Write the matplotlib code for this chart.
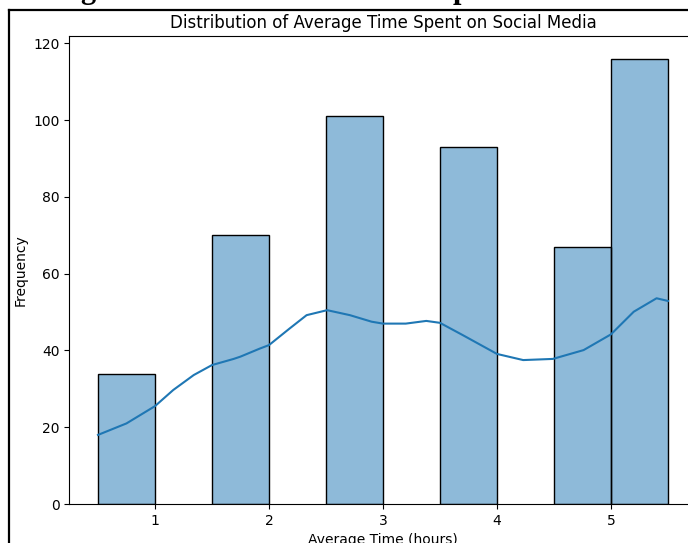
import matplotlib
matplotlib.use('Agg')
import matplotlib.pyplot as plt
from matplotlib.lines import Line2D

# histogram bins (left edge) and counts
bin_left = [0.5, 1.5, 2.5, 3.5, 4.5, 5.0]
counts = [34, 70, 101, 93, 67, 116]
bin_width = 0.5

# kde curve
kde_x = [0.5, 0.75, 1.0, 1.16, 1.34, 1.5, 1.69, 1.75, 1.92, 2.0, 2.18, 2.33, 2.51,
         2.71, 2.9, 3.0, 3.2, 3.38, 3.5, 3.7, 4.0, 4.23, 4.49, 4.76, 5.0, 5.2, 5.4, 5.5]
kde_y = [18.0, 21.0, 25.5, 29.7, 33.6, 36.2, 37.8, 38.4, 40.5, 41.4, 45.7, 49.2, 50.5,
         49.2, 47.5, 47.0, 47.0, 47.7, 47.2, 44.0, 39.1, 37.5, 37.8, 40.1, 44.2, 50.1, 53.6, 52.9]

fig = plt.figure(figsize=(6.88, 5.43), dpi=100)
ax = fig.add_axes([0.101, 0.0718, 0.9113, 0.861])

ax.bar(bin_left, counts, width=bin_width, align='edge', color='#1f77b4', alpha=0.5)
ax.bar(bin_left, counts, width=bin_width, align='edge', fill=False, edgecolor='black', linewidth=1)
ax.plot(kde_x, kde_y, color='#1f77b4', linewidth=1.5, solid_joinstyle='round')

ax.set_xlim(0.25, 5.75)
ax.set_ylim(0, 121.8)
ax.set_xticks([1, 2, 3, 4, 5])
ax.set_yticks(range(0, 121, 20))
ax.set_title('Distribution of Average Time Spent on Social Media', fontsize=12)
ax.set_xlabel('Average Time (hours)')
ax.set_ylabel('Frequency')

# document frame around the screenshot
fig.add_artist(Line2D([9 / 688, 9 / 688], [0, 1 - 10 / 543], transform=fig.transFigure,
                      color='black', linewidth=1.6))
fig.add_artist(Line2D([9 / 688, 1], [1 - 10 / 543, 1 - 10 / 543], transform=fig.transFigure,
                      color='black', linewidth=1.6))
# bits of the document heading that show above the frame
fig.text(80 / 688, 1 + 2 / 543, 'g', fontsize=22, fontweight='bold', family='Liberation Serif',
         va='baseline', ha='left')
fig.text(453 / 688, 1 + 2 / 543, 'p', fontsize=22, fontweight='bold', family='Liberation Serif',
         va='baseline', ha='left')

fig.savefig('out.png', dpi=100)
